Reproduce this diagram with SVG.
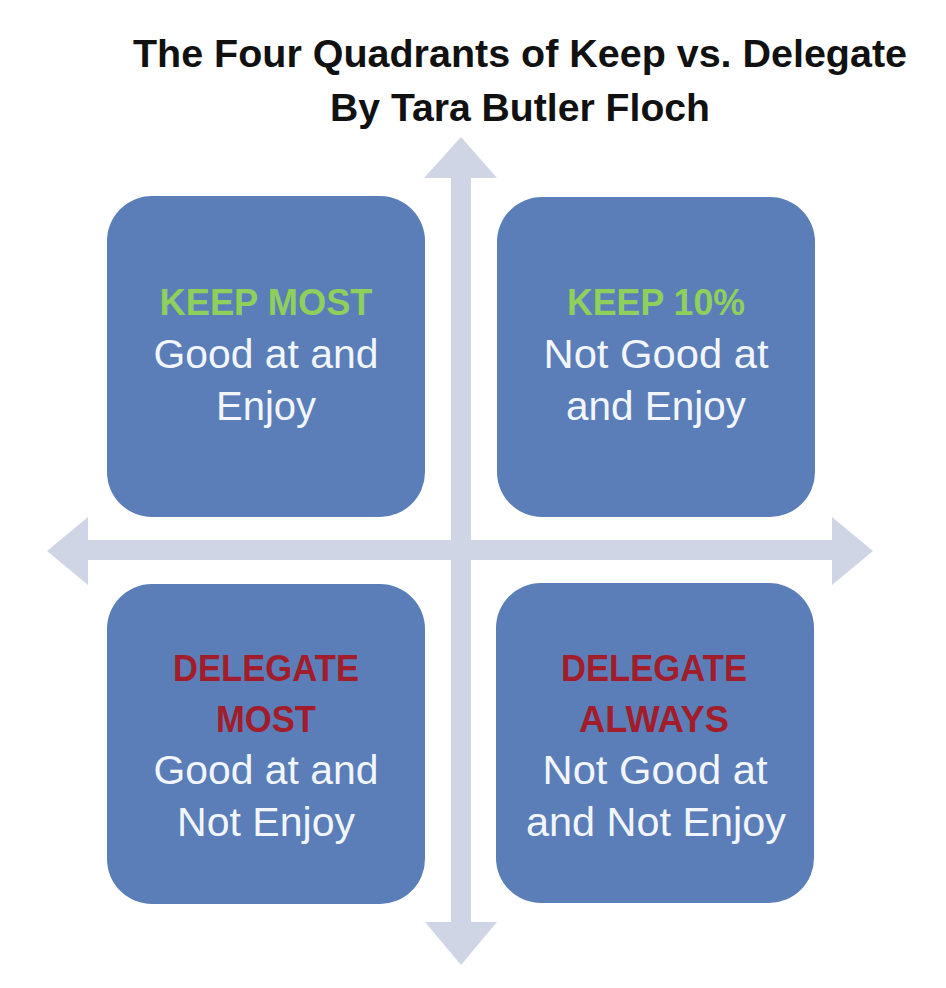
<svg xmlns="http://www.w3.org/2000/svg" width="946" height="988" viewBox="0 0 946 988">
<style>
.title{font-family:"Liberation Sans",Arial,sans-serif;font-weight:bold;font-size:39.5px;fill:#111;text-anchor:middle}
.box{fill:#5b7eb8}
.axis{fill:#cfd5e4}
.head{font-family:"Liberation Sans",Arial,sans-serif;font-weight:bold;font-size:36px;text-anchor:middle}
.green{fill:#8fcf5c}
.red{fill:#a11d2b}
.body{font-family:"Liberation Sans",Arial,sans-serif;font-size:40px;fill:#f2f6fc;text-anchor:middle}
</style>
<rect width="946" height="988" fill="#ffffff"/>
<g id="title">
<text class="title" x="520" y="67" textLength="774" lengthAdjust="spacingAndGlyphs">The Four Quadrants of Keep vs. Delegate</text>
<text class="title" x="520" y="121" textLength="380" lengthAdjust="spacingAndGlyphs">By Tara Butler Floch</text>
</g>
<g id="connectors">
<rect class="axis" x="451" y="176" width="20" height="748"/>
<polygon class="axis" points="424,178 461,137 497,178"/>
<polygon class="axis" points="425,922 461,965 497,922"/>
<rect class="axis" x="86" y="540" width="748" height="20"/>
<polygon class="axis" points="88,517 47,551 88,585"/>
<polygon class="axis" points="832,517 873,551 832,585"/>
</g>
<g id="keep-most">
<rect class="box" x="107" y="196" width="318" height="321" rx="45"/>
<text class="head green" x="266" y="315" textLength="213" lengthAdjust="spacingAndGlyphs">KEEP MOST</text>
<text class="body" x="266" y="368" textLength="225" lengthAdjust="spacingAndGlyphs">Good at and</text>
<text class="body" x="266" y="420">Enjoy</text>
</g>
<g id="keep-10">
<rect class="box" x="497" y="197" width="318" height="320" rx="45"/>
<text class="head green" x="656" y="315" textLength="178" lengthAdjust="spacingAndGlyphs">KEEP 10%</text>
<text class="body" x="656" y="368" textLength="225" lengthAdjust="spacingAndGlyphs">Not Good at</text>
<text class="body" x="656" y="420" textLength="180" lengthAdjust="spacingAndGlyphs">and Enjoy</text>
</g>
<g id="delegate-most">
<rect class="box" x="107" y="584" width="318" height="320" rx="45"/>
<text class="head red" x="266" y="681" textLength="186" lengthAdjust="spacingAndGlyphs">DELEGATE</text>
<text class="head red" x="266" y="732" textLength="100" lengthAdjust="spacingAndGlyphs">MOST</text>
<text class="body" x="266" y="784" textLength="225" lengthAdjust="spacingAndGlyphs">Good at and</text>
<text class="body" x="266" y="836" textLength="178" lengthAdjust="spacingAndGlyphs">Not Enjoy</text>
</g>
<g id="delegate-always">
<rect class="box" x="496" y="583" width="318" height="320" rx="45"/>
<text class="head red" x="654" y="681" textLength="186" lengthAdjust="spacingAndGlyphs">DELEGATE</text>
<text class="head red" x="654" y="732" textLength="150" lengthAdjust="spacingAndGlyphs">ALWAYS</text>
<text class="body" x="655" y="784" textLength="225" lengthAdjust="spacingAndGlyphs">Not Good at</text>
<text class="body" x="656" y="836" textLength="260" lengthAdjust="spacingAndGlyphs">and Not Enjoy</text>
</g>
</svg>
